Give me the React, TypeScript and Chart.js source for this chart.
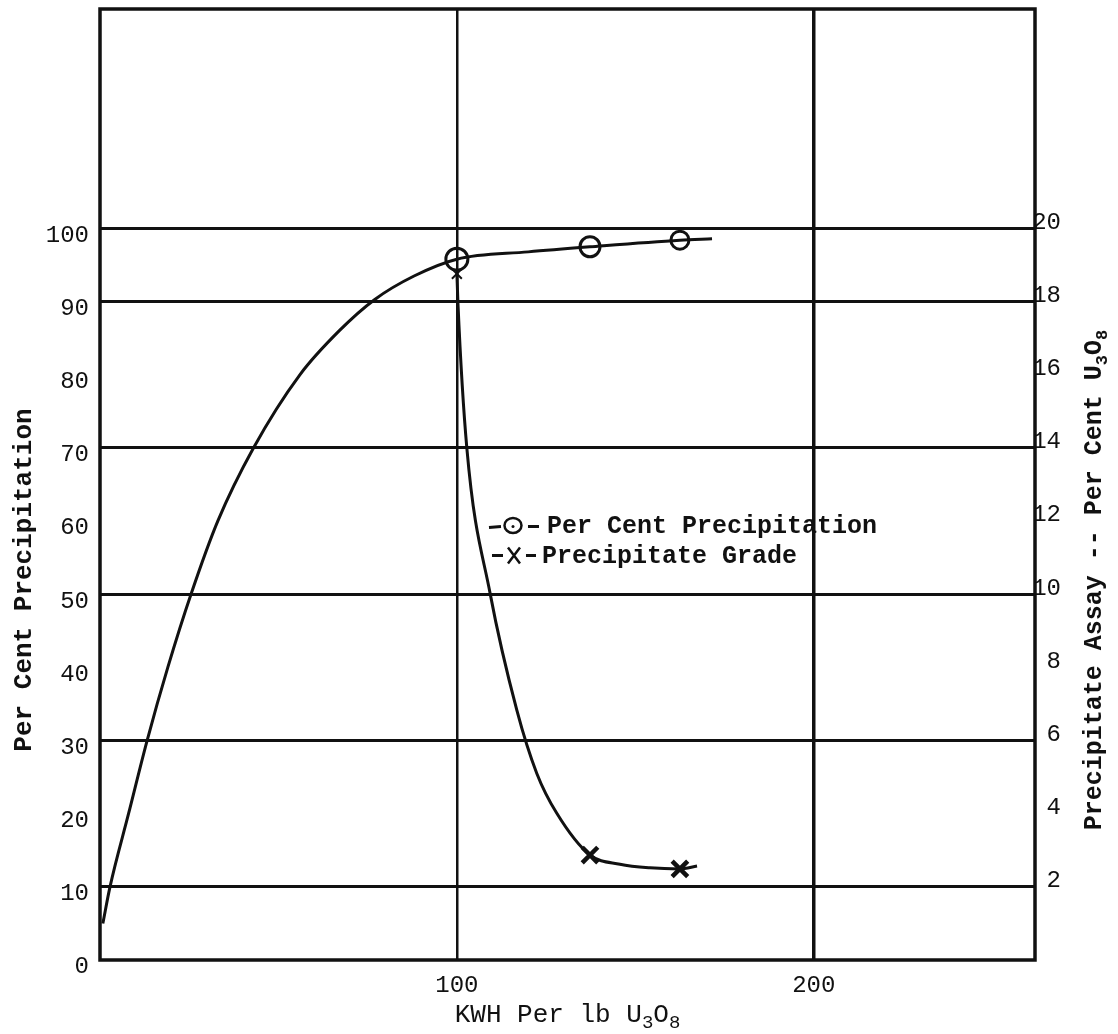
import React, { useEffect, useRef } from "react";
import { Chart, registerables } from "chart.js";

Chart.register(...registerables);

const FONT = "'Liberation Mono', 'Courier New', 'DejaVu Sans Mono', monospace";

// Per Cent Precipitation (left axis) – hand drawn curve
const precipCurveX = [0.8, 2.8, 8, 13.2, 19, 25.5, 33, 43, 56, 67, 77, 88, 100, 120, 137.3, 162.5, 171.5];
const precipCurveY = [5, 10, 20, 30, 40, 50, 60, 70, 80, 86, 90.3, 93.5, 95.8, 96.8, 97.5, 98.4, 98.6];
// Per Cent Precipitation – plotted points
const precipPointsX = [100, 137.3, 162.5];
const precipPointsY = [95.8, 97.5, 98.4];

// Precipitate Grade (right axis, % U3O8) – hand drawn curve
const gradeCurveX = [100, 100.3, 102.8, 109.3, 116.8, 122.4, 128, 137.3, 145.7, 154.1, 162.5, 167.3];
const gradeCurveY = [18.8, 17.96, 13.99, 10.03, 6.83, 5.1, 4.01, 2.87, 2.62, 2.52, 2.49, 2.57];
// Precipitate Grade – plotted points
const gradePointsX = [100, 137.3, 162.5];
const gradePointsY = [18.76, 2.87, 2.49];

// Tick labels
const xTickLabels = ["100", "200"];
const leftTickLabels = ["0", "10", "20", "30", "40", "50", "60", "70", "80", "90", "100"];
const rightTickLabels = ["2", "4", "6", "8", "10", "12", "14", "16", "18", "20"];
const leftGridValues = [10, 30, 50, 70, 90, 100];

// Legend texts
const legendPrecip = "Per Cent Precipitation";
const legendGrade = "Precipitate Grade";

type Part = { t: string; sub?: boolean };

function drawRich(
  ctx: CanvasRenderingContext2D,
  parts: Part[],
  cx: number,
  cy: number,
  rot: number,
  mainFont: string,
  subFont: string,
  subShift: number
) {
  ctx.save();
  let total = 0;
  const widths = parts.map((p) => {
    ctx.font = p.sub ? subFont : mainFont;
    const w = ctx.measureText(p.t).width;
    total += w;
    return w;
  });
  ctx.translate(cx, cy);
  ctx.rotate(rot);
  ctx.fillStyle = "#111";
  ctx.textAlign = "left";
  ctx.textBaseline = "alphabetic";
  let x = -total / 2;
  parts.forEach((p, i) => {
    ctx.font = p.sub ? subFont : mainFont;
    ctx.fillText(p.t, x, p.sub ? subShift : 0);
    x += widths[i];
  });
  ctx.restore();
}

const decorPlugin = {
  id: "decor",
  afterDraw(chart: any) {
    const ctx: CanvasRenderingContext2D = chart.ctx;
    const a = chart.chartArea;
    const xs = chart.scales.x;
    const ys = chart.scales.y;
    ctx.save();
    // frame
    ctx.strokeStyle = "#111";
    ctx.lineWidth = 3.5;
    ctx.strokeRect(a.left, a.top, a.right - a.left, a.bottom - a.top);

    // axis titles
    const boldMain = `bold 25px ${FONT}`;
    const boldSub = `bold 17px ${FONT}`;
    drawRich(ctx, [{ t: "Per Cent Precipitation" }], 31, 580, -Math.PI / 2, `bold 26px ${FONT}`, boldSub, 6);
    drawRich(
      ctx,
      [
        { t: "Precipitate Assay -- Per Cent U" },
        { t: "3", sub: true },
        { t: "O" },
        { t: "8", sub: true },
      ],
      1101,
      580,
      -Math.PI / 2,
      boldMain,
      boldSub,
      6
    );
    drawRich(
      ctx,
      [{ t: "KWH Per lb U" }, { t: "3", sub: true }, { t: "O" }, { t: "8", sub: true }],
      (a.left + a.right) / 2,
      1022,
      0,
      `26px ${FONT}`,
      `19px ${FONT}`,
      6
    );

    // in-plot legend
    const x0 = xs.getPixelForValue(109);
    const y1 = ys.getPixelForValue(59.4);
    const y2 = ys.getPixelForValue(55.3);
    ctx.strokeStyle = "#111";
    ctx.lineWidth = 3;
    ctx.beginPath();
    ctx.moveTo(x0, y1 + 2);
    ctx.lineTo(x0 + 12, y1 + 1);
    ctx.moveTo(x0 + 39, y1 + 1);
    ctx.lineTo(x0 + 50, y1 + 1);
    ctx.stroke();
    ctx.lineWidth = 2.5;
    ctx.beginPath();
    ctx.ellipse(x0 + 24, y1, 8.5, 7.5, 0, 0, Math.PI * 2);
    ctx.stroke();
    ctx.beginPath();
    ctx.arc(x0 + 24, y1 + 1, 1.5, 0, Math.PI * 2);
    ctx.fillStyle = "#111";
    ctx.fill();

    ctx.lineWidth = 3;
    ctx.beginPath();
    ctx.moveTo(x0 + 3, y2);
    ctx.lineTo(x0 + 14, y2);
    ctx.moveTo(x0 + 37, y2);
    ctx.lineTo(x0 + 47, y2);
    ctx.stroke();
    ctx.lineWidth = 2.5;
    ctx.beginPath();
    ctx.moveTo(x0 + 19, y2 - 8);
    ctx.lineTo(x0 + 31, y2 + 8);
    ctx.moveTo(x0 + 31, y2 - 8);
    ctx.lineTo(x0 + 19, y2 + 8);
    ctx.stroke();

    ctx.font = `bold 25px ${FONT}`;
    ctx.fillStyle = "#111";
    ctx.textAlign = "left";
    ctx.textBaseline = "middle";
    ctx.fillText(legendPrecip, x0 + 58, y1 + 1);
    ctx.fillText(legendGrade, x0 + 53, y2 + 1);
    ctx.restore();
  },
};

export default function App() {
  const ref = useRef<HTMLCanvasElement | null>(null);

  useEffect(() => {
    if (!ref.current) return;
    const pts = (xs: number[], ys: number[]) => xs.map((x, i) => ({ x, y: ys[i] }));
    const tickFont = { family: FONT, size: 24 };
    const yTickFont = { family: FONT, size: 24, lineHeight: 0.1 };

    const chart = new Chart(ref.current, {
      type: "scatter",
      data: {
        datasets: [
          {
            label: "Per Cent Precipitation curve",
            data: pts(precipCurveX, precipCurveY),
            showLine: true,
            borderColor: "#111",
            borderWidth: 3,
            pointRadius: 0,
            cubicInterpolationMode: "monotone",
            yAxisID: "y",
          },
          {
            label: "Per Cent Precipitation",
            data: pts(precipPointsX, precipPointsY),
            showLine: false,
            pointStyle: "circle",
            pointRadius: [11, 10, 9],
            pointBorderWidth: 3,
            pointBorderColor: "#111",
            pointBackgroundColor: "rgba(0,0,0,0)",
            yAxisID: "y",
          },
          {
            label: "Precipitate Grade curve",
            data: pts(gradeCurveX, gradeCurveY),
            showLine: true,
            borderColor: "#111",
            borderWidth: 3,
            pointRadius: 0,
            cubicInterpolationMode: "monotone",
            yAxisID: "y2",
          },
          {
            label: "Precipitate Grade",
            data: pts(gradePointsX, gradePointsY),
            showLine: false,
            pointStyle: "crossRot",
            pointRadius: [7, 11, 11],
            pointBorderWidth: [2, 4.5, 4.5],
            pointBorderColor: "#111",
            yAxisID: "y2",
          },
        ],
      },
      options: {
        responsive: false,
        animation: false,
        devicePixelRatio: 1,
        layout: { autoPadding: false, padding: { top: 9, left: 0, right: 57, bottom: 0 } },
        plugins: {
          legend: { display: false },
          tooltip: { enabled: false },
        },
        scales: {
          x: {
            type: "linear",
            min: 0,
            max: 262,
            afterBuildTicks: (s: any) => {
              s.ticks = [0, ...xTickLabels.map(Number)].map((v) => ({ value: v }));
            },
            afterFit: (s: any) => {
              s.height = 74;
              s.paddingLeft = 0;
              s.paddingRight = 0;
            },
            border: { display: false },
            grid: {
              drawTicks: false,
              color: (c: any) => (c.tick && c.tick.value > 0 ? "#111" : "rgba(0,0,0,0)"),
              lineWidth: (c: any) => (c.tick && c.tick.value === 100 ? 2.5 : 3.5),
            },
            ticks: {
              padding: 11,
              color: "#111",
              font: tickFont,
              maxRotation: 0,
              autoSkip: false,
              callback: (v: any) => (xTickLabels.includes(String(v)) ? String(v) : ""),
            },
          },
          y: {
            type: "linear",
            position: "left",
            min: 0,
            max: 130,
            afterBuildTicks: (s: any) => {
              s.ticks = leftTickLabels.map((t) => ({ value: Number(t) }));
            },
            afterFit: (s: any) => {
              s.width = 100;
              s.paddingTop = 0;
              s.paddingBottom = 0;
            },
            border: { display: false },
            grid: {
              drawTicks: false,
              color: (c: any) =>
                c.tick && leftGridValues.includes(c.tick.value) ? "#111" : "rgba(0,0,0,0)",
              lineWidth: 3,
            },
            ticks: {
              padding: 11,
              labelOffset: 7,
              color: "#111",
              font: yTickFont,
              autoSkip: false,
              callback: (v: any) => String(v),
            },
          },
          y2: {
            type: "linear",
            position: "right",
            min: 0,
            max: 26,
            afterBuildTicks: (s: any) => {
              s.ticks = rightTickLabels.map((t) => ({ value: Number(t) }));
            },
            afterFit: (s: any) => {
              s.width = 26;
              s.paddingTop = 0;
              s.paddingBottom = 0;
            },
            border: { display: false },
            grid: { display: false, drawTicks: false },
            ticks: {
              padding: 0,
              crossAlign: "far",
              labelOffset: -6,
              color: "#111",
              font: yTickFont,
              autoSkip: false,
              callback: (v: any) => String(v),
            },
          },
        },
      } as any,
      plugins: [decorPlugin],
    });

    return () => chart.destroy();
  }, []);

  return (
    <canvas
      ref={ref}
      width={1118}
      height={1034}
      style={{ position: "fixed", left: 0, top: 0, display: "block", background: "#fff" }}
    />
  );
}
